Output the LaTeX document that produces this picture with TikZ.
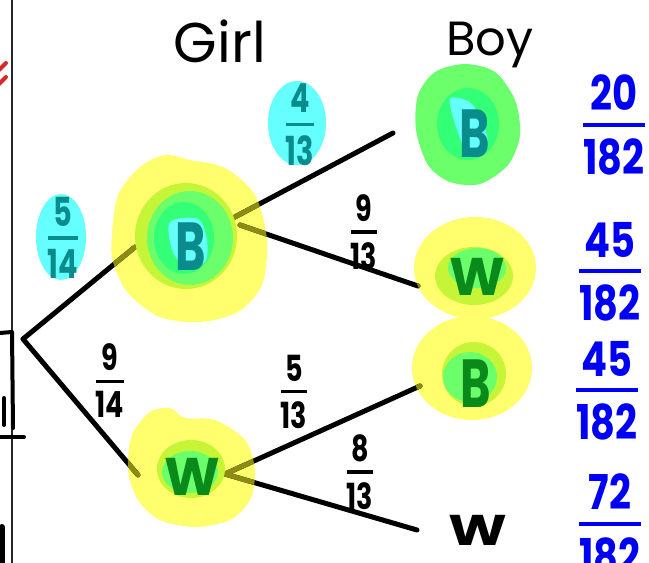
\documentclass[tikz,border=0pt]{standalone}
\usepackage{fontspec}
\usepackage{graphicx}
\setmainfont{Poppins}
\usetikzlibrary{calc}

\definecolor{hlyellow}{HTML}{FFFF6E}
\definecolor{hlyelgreen}{HTML}{C6F537}
\definecolor{hlgreen}{HTML}{6BFF6B}
\definecolor{hlbright}{HTML}{33FF77}
\definecolor{hlcyan}{HTML}{66FFFF}
\definecolor{inkteal}{HTML}{0A8C8C}
\definecolor{inkgreen}{HTML}{0A8A1A}
\definecolor{inkblue}{HTML}{0000F5}
\definecolor{inkolive}{HTML}{8C8C14}
\definecolor{inkred}{HTML}{D82828}

% stacked fraction: numerator, bar, denominator
\newcommand\hfr[2]{\vbox{\offinterlineskip\halign{\hfil##\hfil\cr#1\cr
  \noalign{\kern0.24em\hrule height0.09em\kern0.24em}#2\cr}}}
\newcommand\narrow[2]{\scalebox{#1}[1]{#2}}

% highlighter blobs behind the tree nodes
\newcommand\blobGB{plot[smooth cycle] coordinates {(112,235) (118,195) (140,167)
  (165,155) (190,160) (225,168) (255,195) (267,240) (262,285) (238,312) (200,322)
  (160,317) (128,293) (113,262)}}
\newcommand\blobGW{plot[smooth cycle] coordinates {(128,470) (132,435) (150,412)
  (170,408) (185,418) (215,420) (245,440) (255,470) (250,500) (230,520) (195,527)
  (160,520) (138,500)}}
\newcommand\blobBW{(475,268) ellipse [x radius=61, y radius=51]}
\newcommand\blobBB{(472,368) ellipse [x radius=60, y radius=52]}

\tikzset{
  ink/.style={line width=5pt,line cap=round,line join=round},
  head/.style={inner sep=0pt,anchor=base,font=\fontsize{56}{60}\selectfont},
  prob/.style={inner sep=0pt,font=\fontsize{36}{40}\selectfont\bfseries},
  joint/.style={inner sep=0pt,text=inkblue,font=\fontsize{48}{52}\selectfont\bfseries},
  letter/.style={inner sep=0pt,anchor=base,font=\fontsize{68}{72}\selectfont\bfseries},
}

% the six branches of the tree
\newcommand\treelines[1]{%
  \draw[ink,draw=#1] (root) -- (gBin);
  \draw[ink,draw=#1] (root) -- (gWin);
  \draw[ink,draw=#1] (gBup) -- (bBin);
  \draw[ink,draw=#1] (gBdn) -- (bWin);
  \draw[ink,draw=#1] (gWout) -- (bB2in);
  \draw[ink,draw=#1] (gWout) -- (bW2in);
}

\begin{document}
\begin{tikzpicture}[x=1pt,y=-1pt]
\fill[white] (0,0) rectangle (649,563);
\useasboundingbox (0,0) rectangle (649,563);

% margin rule and leftover strokes at the page edge
\draw[line width=1.5pt,black!85] (12,0) -- (12,563);
\draw[ink,line width=4pt,inkred] (-1,70) -- (6,63);
\draw[ink,line width=4pt,inkred] (-1,84) -- (6,77);
\draw[ink,line width=4pt] (0,333) -- (12,332) -- (13,428);
\draw[ink,line width=4pt] (0,437) -- (24,437);
\draw[ink,line width=4pt] (4,398) -- (4,425);
\draw[ink,line width=6pt] (2,527) -- (2,570);

% branch end points
\coordinate (root)  at (23,339);
\coordinate (gBin)  at (135,247);
\coordinate (gBup)  at (233,218);
\coordinate (gBdn)  at (240,225);
\coordinate (gWin)  at (138,475);
\coordinate (gWout) at (225,474);
\coordinate (bBin)  at (393,133);
\coordinate (bWin)  at (418,286);
\coordinate (bB2in) at (420,386);
\coordinate (bW2in) at (417,530);

% yellow highlighter
\fill[hlyellow] \blobGB;
\fill[hlyellow] \blobGW;
\fill[hlyellow] \blobBW;
\fill[hlyellow] \blobBB;

% branches, tinted where they run under the yellow
\treelines{black}
\begin{scope}\clip \blobGB; \treelines{inkolive}\end{scope}
\begin{scope}\clip \blobGW; \treelines{inkolive}\end{scope}
\begin{scope}\clip \blobBW; \treelines{inkolive}\end{scope}
\begin{scope}\clip \blobBB; \treelines{inkolive}\end{scope}

% inner highlighter rings
\fill[hlyelgreen] (186,236) ellipse [x radius=51, y radius=53];
\fill[hlgreen]    (190,238) ellipse [x radius=43, y radius=47];
\fill[hlbright]   (184,238) ellipse [x radius=30, y radius=36];
\fill[hlcyan] plot[smooth cycle] coordinates {(170,222) (198,219) (207,240) (205,262) (185,266) (172,250)};

\fill[hlyelgreen] (191,469) ellipse [x radius=34, y radius=29];
\fill[hlgreen]    (190,472) ellipse [x radius=28, y radius=21];

\fill[hlgreen] plot[smooth cycle] coordinates {(418,95) (435,72) (465,64) (495,72)
  (515,100) (520,135) (508,165) (480,184) (450,182) (428,165) (416,130)};
\fill[hlbright] (468,124) ellipse [x radius=31, y radius=36];
\fill[hlcyan] plot[smooth cycle] coordinates {(450,99) (472,104) (487,135) (484,150) (468,153) (457,130)};

\fill[hlyelgreen] (474,276) ellipse [x radius=39, y radius=29];
\fill[hlgreen]    (477,268) ellipse [x radius=29, y radius=20];

\fill[hlyelgreen] (474,374) ellipse [x radius=32, y radius=32];
\fill[hlgreen]    (470,377) ellipse [x radius=27, y radius=25];

% column headings
\node[head] (hgirl) at (220,62) {Girl};
\node[head,font=\fontsize{48}{52}\selectfont] (hboy) at (490,55) {Boy};

% outcome letters
\node[letter,text=inkteal]  (gB)  at (191,270) {\narrow{0.68}{B}};
\node[letter,text=inkgreen,font=\fontsize{53}{56}\selectfont\bfseries] (gW) at (192,495) {W};
\node[letter,text=inkteal]  (bB)  at (475,157) {\narrow{0.68}{B}};
\node[letter,text=inkgreen,font=\fontsize{53}{56}\selectfont\bfseries] (bW) at (477,295) {W};
\node[letter,text=inkgreen] (bB2) at (476,407) {\narrow{0.68}{B}};
\node[letter,font=\fontsize{43}{46}\selectfont\bfseries] (bW2) at (478,545) {\narrow{1.3}{W}};

% branch probabilities
\fill[hlcyan] (61,237) ellipse [x radius=25, y radius=43];
\fill[hlcyan] (297,123) ellipse [x radius=29, y radius=42];
\node[prob,text=inkteal,font=\fontsize{40}{44}\selectfont\bfseries] (pgB) at (63,238)  {\narrow{0.72}{\hfr{5}{14}}};
\node[prob]              (pgW) at (110,381) {\narrow{0.75}{\hfr{9}{14}}};
\node[prob,text=inkteal,font=\fontsize{40}{44}\selectfont\bfseries] (pbB) at (300,125) {\narrow{0.72}{\hfr{4}{13}}};
\node[prob]              (pbW) at (364,232) {\narrow{0.75}{\hfr{9}{13}}};
\node[prob]              (pwB) at (294,392) {\narrow{0.75}{\hfr{5}{13}}};
\node[prob]              (pwW) at (360,472) {\narrow{0.75}{\hfr{8}{13}}};

% joint probabilities
\node[joint] (j1) at (614,125) {\narrow{0.8}{\hfr{20}{182}}};
\node[joint] (j2) at (610,272) {\narrow{0.8}{\hfr{45}{182}}};
\node[joint] (j3) at (607,391) {\narrow{0.8}{\hfr{45}{182}}};
\node[joint] (j4) at (610,524) {\narrow{0.8}{\hfr{72}{182}}};
\end{tikzpicture}
\end{document}
